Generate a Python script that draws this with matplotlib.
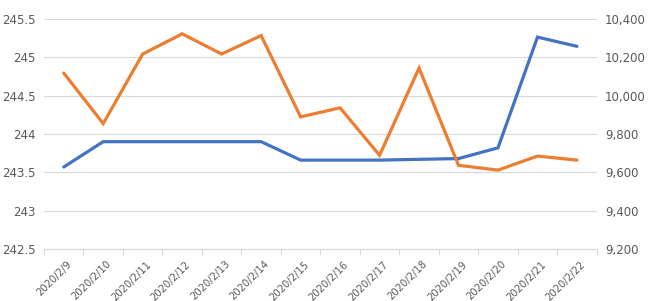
import matplotlib

matplotlib.use("Agg")
import matplotlib.pyplot as plt
from matplotlib.ticker import FuncFormatter, FixedLocator

dates = [
    "2020/2/9", "2020/2/10", "2020/2/11", "2020/2/12", "2020/2/13", "2020/2/14", "2020/2/15",
    "2020/2/16", "2020/2/17", "2020/2/18", "2020/2/19", "2020/2/20", "2020/2/21", "2020/2/22",
]
# blue series, left axis
blue_vals = [243.57, 243.90, 243.90, 243.90, 243.90, 243.90, 243.66,
             243.66, 243.66, 243.67, 243.68, 243.82, 245.26, 245.14]
# orange series, right axis
orange_vals = [10117, 9854, 10216, 10321, 10216, 10312, 9889,
               9936, 9689, 10143, 9637, 9612, 9685, 9664]
left_ticks = [242.5, 243, 243.5, 244, 244.5, 245, 245.5]
right_ticks = [9200, 9400, 9600, 9800, 10000, 10200, 10400]

BLUE = "#4472C4"
ORANGE = "#ED7D31"
GRID = "#D9D9D9"
LABEL = "#595959"

fig = plt.figure(figsize=(6.5, 3.01), dpi=100)
ax = fig.add_axes([0.0677, 0.1718, 0.8503, 0.7662])
ax2 = ax.twinx()

x = list(range(len(dates)))
ax.plot(x, blue_vals, color=BLUE, lw=2.3, solid_capstyle="round", solid_joinstyle="miter", zorder=3)
ax2.plot(x, orange_vals, color=ORANGE, lw=2.3, solid_capstyle="round", solid_joinstyle="miter", zorder=3)

ax.set_xlim(-0.5, len(dates) - 0.5)
ax.set_ylim(left_ticks[0], left_ticks[-1])
ax2.set_ylim(right_ticks[0], right_ticks[-1])
ax.set_yticks(left_ticks)
ax.set_yticklabels([f"{v:g}" for v in left_ticks])
ax2.set_yticks(right_ticks)
ax2.yaxis.set_major_formatter(FuncFormatter(lambda v, _: f"{v:,.0f}"))

ax.set_xticks([i + 0.08 for i in x])
ax.set_xticklabels(dates, rotation=45, ha="right", rotation_mode="anchor")
ax.xaxis.set_minor_locator(FixedLocator([i - 0.5 for i in range(len(dates) + 1)]))
ax.tick_params(axis="x", which="major", length=0, pad=7, labelsize=7.2, labelcolor=LABEL)
ax.tick_params(axis="x", which="minor", length=4, color=GRID, width=0.8)
ax.tick_params(axis="y", length=0, pad=6, labelsize=8.5, labelcolor=LABEL)
ax2.tick_params(axis="y", length=0, pad=6, labelsize=8.5, labelcolor=LABEL)

ax.grid(axis="y", color=GRID, lw=0.8)
ax.set_axisbelow(True)
for a in (ax, ax2):
    for side in ("top", "left", "right"):
        a.spines[side].set_visible(False)
    a.spines["bottom"].set_color(GRID)
    a.spines["bottom"].set_linewidth(0.8)

fig.savefig("out.png", dpi=100)
